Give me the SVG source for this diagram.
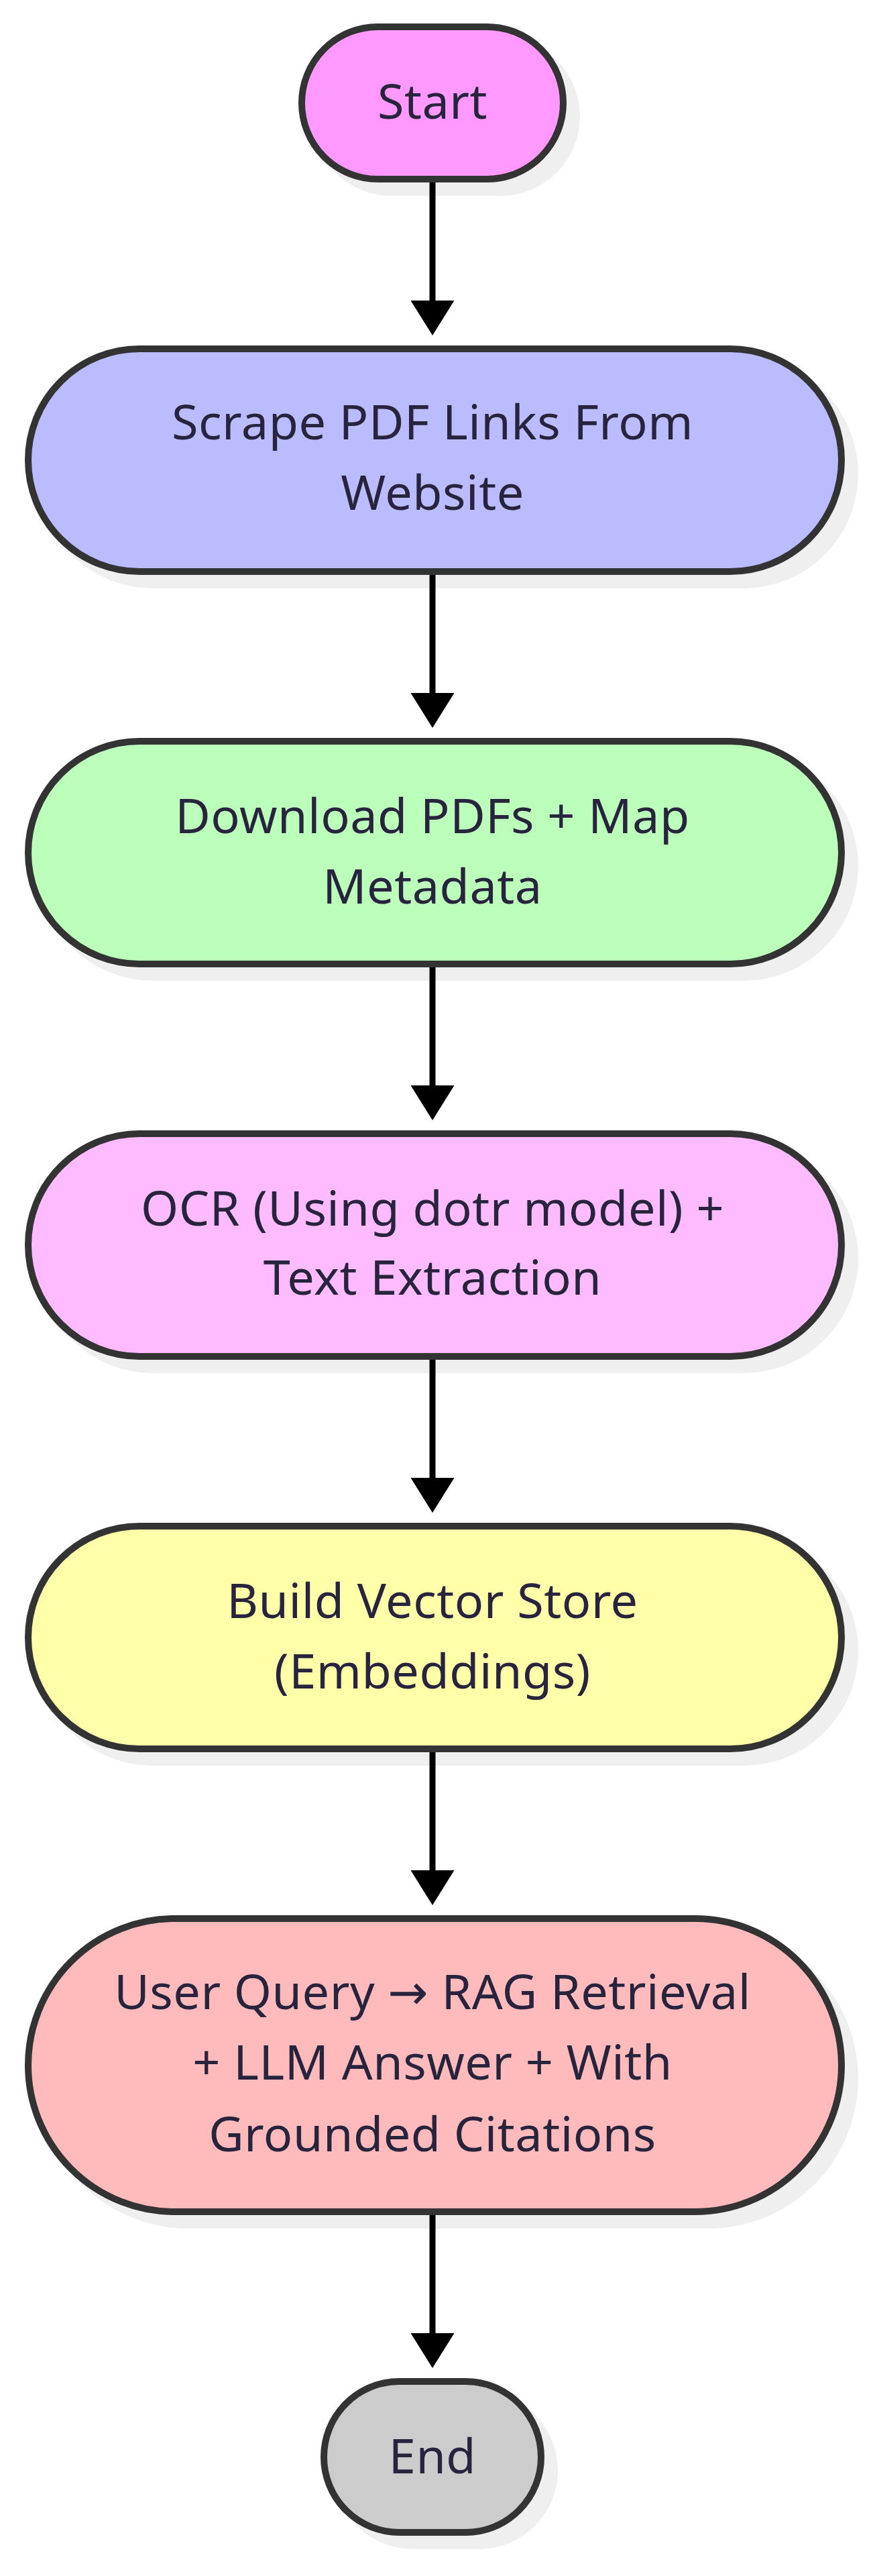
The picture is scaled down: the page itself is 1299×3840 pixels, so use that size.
<svg xmlns="http://www.w3.org/2000/svg" width="1299" height="3840" viewBox="0 0 1299 3840">
<defs>
<style>
.shadow{fill:#efefef;stroke:#efefef;stroke-width:10}
.node{stroke:#333333;stroke-width:10}
.label{font-family:"Noto Sans","DejaVu Sans",sans-serif;font-size:72px;fill:#28243e;text-anchor:middle;letter-spacing:0.5px}
.edge{stroke:#000000;stroke-width:9;fill:none}
</style>
<marker id="arrow" markerUnits="userSpaceOnUse" viewBox="0 0 52 65" markerWidth="52" markerHeight="65" refX="2" refY="32.5" orient="auto">
<path d="M0,0 L52,32.5 L0,65 Z" fill="#000000"/>
</marker>
</defs>
<rect width="1299" height="3840" fill="#ffffff"/>
<g id="start">
<rect class="shadow" x="470" y="60" width="390" height="227" rx="113.5"/>
<rect class="node" x="450" y="40" width="390" height="227" rx="113.5" fill="#ff99ff"/>
<text class="label" x="645" y="177">Start</text>
</g>
<g id="scrape">
<rect class="shadow" x="62" y="540" width="1213" height="332" rx="166"/>
<rect class="node" x="42" y="520" width="1213" height="332" rx="166" fill="#bbbbff"/>
<text class="label" x="645" y="655">Scrape PDF Links From</text>
<text class="label" x="645" y="760">Website</text>
</g>
<g id="download">
<rect class="shadow" x="62" y="1125" width="1213" height="332" rx="166"/>
<rect class="node" x="42" y="1105" width="1213" height="332" rx="166" fill="#bbffbb"/>
<text class="label" x="645" y="1242">Download PDFs + Map</text>
<text class="label" x="645" y="1347">Metadata</text>
</g>
<g id="ocr">
<rect class="shadow" x="62" y="1710" width="1213" height="332" rx="166"/>
<rect class="node" x="42" y="1690" width="1213" height="332" rx="166" fill="#ffbbff"/>
<text class="label" x="645" y="1827">OCR (Using dotr model) +</text>
<text class="label" x="645" y="1930">Text Extraction</text>
</g>
<g id="vector">
<rect class="shadow" x="62" y="2295" width="1213" height="332" rx="166"/>
<rect class="node" x="42" y="2275" width="1213" height="332" rx="166" fill="#ffffaa"/>
<text class="label" x="645" y="2412">Build Vector Store</text>
<text class="label" x="645" y="2517">(Embeddings)</text>
</g>
<g id="query">
<rect class="shadow" x="62" y="2880" width="1213" height="437" rx="218.5"/>
<rect class="node" x="42" y="2860" width="1213" height="437" rx="218.5" fill="#ffbbbb"/>
<text class="label" x="645" y="2995">User Query → RAG Retrieval</text>
<text class="label" x="645" y="3100">+ LLM Answer + With</text>
<text class="label" x="645" y="3207">Grounded Citations</text>
</g>
<g id="end">
<rect class="shadow" x="503" y="3570" width="324" height="225" rx="112.5"/>
<rect class="node" x="483" y="3550" width="324" height="225" rx="112.5" fill="#cccccc"/>
<text class="label" x="645" y="3687">End</text>
</g>
<g id="connectors">
<line class="edge" x1="645" y1="272" x2="645" y2="450" marker-end="url(#arrow)"/>
<line class="edge" x1="645" y1="857" x2="645" y2="1035" marker-end="url(#arrow)"/>
<line class="edge" x1="645" y1="1442" x2="645" y2="1620" marker-end="url(#arrow)"/>
<line class="edge" x1="645" y1="2027" x2="645" y2="2205" marker-end="url(#arrow)"/>
<line class="edge" x1="645" y1="2612" x2="645" y2="2790" marker-end="url(#arrow)"/>
<line class="edge" x1="645" y1="3302" x2="645" y2="3480" marker-end="url(#arrow)"/>
</g>
</svg>
